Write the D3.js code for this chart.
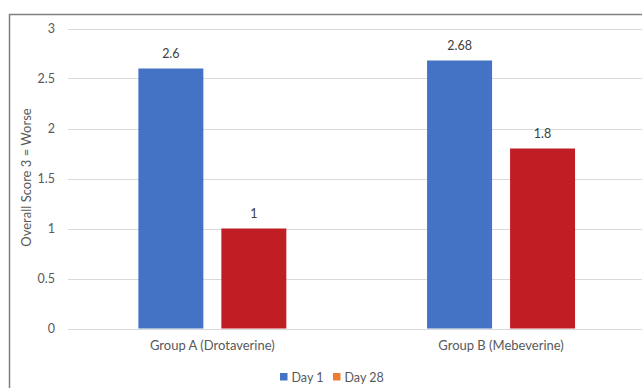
<!DOCTYPE html>
<html>
<head>
<meta charset="utf-8">
<script src="https://cdn.jsdelivr.net/npm/d3@7"></script>
<style>
  html, body { margin: 0; padding: 0; background: #fff; }
  svg { display: block; }
  text { font-family: Lato, "Liberation Sans", Arial, sans-serif; }
</style>
</head>
<body>
<svg id="chart" width="642" height="388"></svg>
<script>
// Chart data
const groups = ["Group A (Drotaverine)", "Group B (Mebeverine)"];
const seriesNames = ["Day 1", "Day 28"];
const day1Values = [2.6, 2.68];
const day28Values = [1, 1.8];
const valueLabels = [["2.6", "2.68"], ["1", "1.8"]];
const yTicks = [0, 0.5, 1, 1.5, 2, 2.5, 3];
const yTitle = "Overall Score 3 = Worse";

const barColors = ["#4472C4", "#C01E24"];
const legendColors = ["#4472C4", "#ED7D31"];
const textColor = "#595959";

const svg = d3.select("#chart");
const W = 642, H = 388;

// plot area (extends slightly past the right edge of the frame)
const plot = { left: 68, right: 645.4, top: 28.5, bottom: 328.5 };

const x0 = d3.scaleBand().domain(groups).range([plot.left, plot.right]).padding(0);
const x1 = d3.scaleBand().domain(seriesNames)
  .range([0, x0.bandwidth()])
  .paddingInner(0.217)
  .paddingOuter(0.848);
const y = d3.scaleLinear().domain([0, 3]).range([plot.bottom, plot.top]);

// outer frame
svg.append("path")
  .attr("d", `M9.5,${H + 5}V14.5H${W + 5}`)
  .attr("fill", "none")
  .attr("stroke", "#7f7f7f")
  .attr("stroke-width", 1.5);

// gridlines
svg.append("g")
  .selectAll("line")
  .data(yTicks)
  .join("line")
  .attr("x1", plot.left)
  .attr("x2", W + 5)
  .attr("y1", d => Math.round(y(d)) + 0.5)
  .attr("y2", d => Math.round(y(d)) + 0.5)
  .attr("stroke", "#d9d9d9")
  .attr("stroke-width", 1);

// y axis labels
const yAxis = d3.axisLeft(y).tickValues(yTicks).tickSize(0).tickPadding(0)
  .tickFormat(d3.format("~g"));
svg.append("g")
  .attr("transform", `translate(55,0)`)
  .call(yAxis)
  .call(g => g.select(".domain").remove())
  .call(g => g.selectAll("text")
    .attr("fill", textColor)
    .attr("font-size", 12.5)
    .attr("font-family", "Lato, 'Liberation Sans', Arial, sans-serif"));

// y axis title
svg.append("text")
  .attr("transform", `translate(31,${(plot.top + plot.bottom) / 2 - 1}) rotate(-90)`)
  .attr("text-anchor", "middle")
  .attr("fill", textColor)
  .attr("font-size", 13)
  .text(yTitle);

// bars
const seriesValues = [day1Values, day28Values];
const rows = [];
groups.forEach((g, gi) => {
  seriesNames.forEach((s, si) => {
    rows.push({ group: g, series: s, si, value: seriesValues[si][gi], label: valueLabels[si][gi] });
  });
});

const barG = svg.append("g");
barG.selectAll("rect")
  .data(rows)
  .join("rect")
  .attr("x", d => x0(d.group) + x1(d.series))
  .attr("y", d => y(d.value))
  .attr("width", x1.bandwidth())
  .attr("height", d => y(0) - y(d.value))
  .attr("fill", d => barColors[d.si]);

// value labels
barG.selectAll("text")
  .data(rows)
  .join("text")
  .attr("x", d => x0(d.group) + x1(d.series) + x1.bandwidth() / 2)
  .attr("y", d => y(d.value) - 11)
  .attr("text-anchor", "middle")
  .attr("fill", "#404040")
  .attr("font-size", 12.5)
  .text(d => d.label);

// category axis labels
const xAxis = d3.axisBottom(x0).tickSize(0).tickPadding(0);
svg.append("g")
  .attr("transform", `translate(0,${plot.bottom})`)
  .call(xAxis)
  .call(g => g.select(".domain").remove())
  .call(g => g.selectAll("text")
    .attr("dy", 0)
    .attr("y", 21.5)
    .attr("fill", textColor)
    .attr("font-size", 13)
    .attr("font-family", "Lato, 'Liberation Sans', Arial, sans-serif"));

// legend
const legendX = [280, 333];
const legend = svg.append("g");
seriesNames.forEach((s, i) => {
  legend.append("rect")
    .attr("x", legendX[i]).attr("y", 373)
    .attr("width", 7.5).attr("height", 7.5)
    .attr("fill", legendColors[i]);
  legend.append("text")
    .attr("x", legendX[i] + 11.5).attr("y", 381.5)
    .attr("fill", textColor)
    .attr("font-size", 12.5)
    .text(s);
});
</script>
</body>
</html>
